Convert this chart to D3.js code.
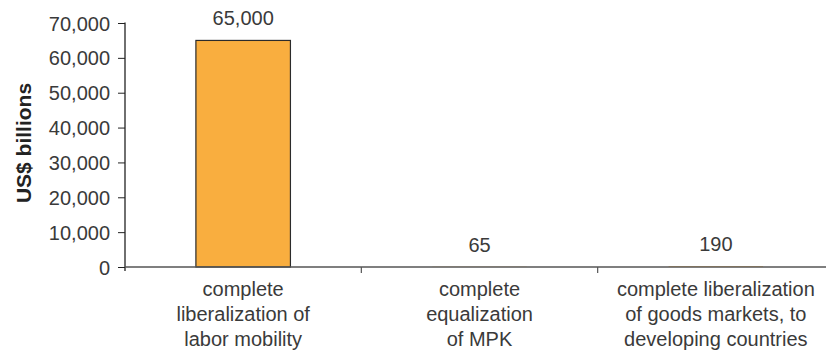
<!DOCTYPE html>
<html>
<head>
<meta charset="utf-8">
<script src="https://cdn.jsdelivr.net/npm/d3@7"></script>
<style>
  body { margin: 0; background: #fff; }
  svg { display: block; font-family: "Liberation Sans", Arial, sans-serif; }
</style>
</head>
<body>
<svg id="chart" width="826" height="354"></svg>
<script>
// data
const categories = [
  ['complete', 'liberalization of', 'labor mobility'],
  ['complete', 'equalization', 'of MPK'],
  ['complete liberalization', 'of goods markets, to', 'developing countries']
]
const values = [65000, 65, 190]
const valueLabels = ['65,000', '65', '190']
const yTicks = [0, 10000, 20000, 30000, 40000, 50000, 60000, 70000]

const margin = {top: 23, left: 125, bottom: 87}
const width = 826, height = 354
const innerHeight = height - margin.top - margin.bottom

const svg = d3.select('#chart')
const g = svg.append('g').attr('transform', `translate(${margin.left}, ${margin.top})`)

const idx = values.map((d, i) => i)
let xScale = d3.scaleBand().domain(idx).range([0, 709]).padding(0)
let yScale = d3.scaleLinear().domain([0, 70000]).range([innerHeight, 0])

const barWidth = xScale.bandwidth() * 0.4
const textColor = '#3a3a3a'
const fontSize = '20px'
const mid = i => margin.left + xScale(i) + xScale.bandwidth() / 2

// bars (tiny ones get no outline, like the reference)
g.selectAll('rect.bar')
  .data(values)
  .enter()
  .append('rect')
    .attr('class', 'bar')
    .attr('x', (d, i) => xScale(i) + xScale.bandwidth() / 2 - barWidth / 2)
    .attr('y', d => yScale(d))
    .attr('width', barWidth)
    .attr('height', d => innerHeight - yScale(d))
    .style('fill', '#F9AE3F')
    .style('stroke', d => innerHeight - yScale(d) > 2 ? '#2b2b2b' : 'none')
    .style('stroke-width', 1.2)

// y axis
let axisLeft = g.append('g')
  .call(d3.axisLeft(yScale).tickValues(yTicks).tickFormat(d3.format(',')).tickSize(7).tickPadding(8))
axisLeft.select('.domain').remove()
axisLeft.append('line')
  .attr('x1', 0).attr('x2', 0)
  .attr('y1', yScale(70000) - 0.5).attr('y2', innerHeight + 4)
  .style('stroke', '#222').style('stroke-width', 1.3)
axisLeft.selectAll('.tick line').style('stroke', '#222')
axisLeft.selectAll('text')
  .style('font-size', fontSize)
  .style('fill', textColor)
  .attr('dy', '0.35em')

// x axis
let xAxisG = g.append('g').attr('transform', `translate(0, ${innerHeight})`)
xAxisG.append('line')
  .attr('x1', 0).attr('x2', 709)
  .style('stroke', '#555').style('stroke-width', 1.5)
xAxisG.selectAll('line.tick')
  .data(idx.slice(1))
  .enter()
  .append('line')
    .attr('class', 'tick')
    .attr('x1', d => xScale(d)).attr('x2', d => xScale(d))
    .attr('y1', 0).attr('y2', 6)
    .style('stroke', '#555').style('stroke-width', 1.2)

// value labels (placed straight on the svg)
svg.selectAll('text.val')
  .data(values)
  .enter()
  .append('text')
    .attr('class', 'val')
    .attr('transform', (d, i) => `translate(${mid(i)}, ${margin.top + yScale(d) - 15})`)
    .attr('text-anchor', 'middle')
    .style('font-size', fontSize)
    .style('fill', textColor)
    .text((d, i) => valueLabels[i])

// category labels, one text per line
const catLines = categories.flatMap((lines, i) => lines.map((t, j) => ({cat: i, line: j, text: t})))
svg.selectAll('text.cat')
  .data(catLines)
  .enter()
  .append('text')
    .attr('class', 'cat')
    .attr('text-anchor', 'middle')
    .attr('transform', d => `translate(${mid(d.cat)}, ${margin.top + innerHeight + 29 + d.line * 25})`)
    .style('font-size', fontSize)
    .style('fill', textColor)
    .text(d => d.text)

// y axis title
svg.append('text')
  .attr('transform', `translate(31, 143) rotate(-90)`)
  .attr('text-anchor', 'middle')
  .style('font-size', '21px')
  .style('font-weight', 'bold')
  .style('fill', '#222')
  .text('US$ billions')
</script>
</body>
</html>
